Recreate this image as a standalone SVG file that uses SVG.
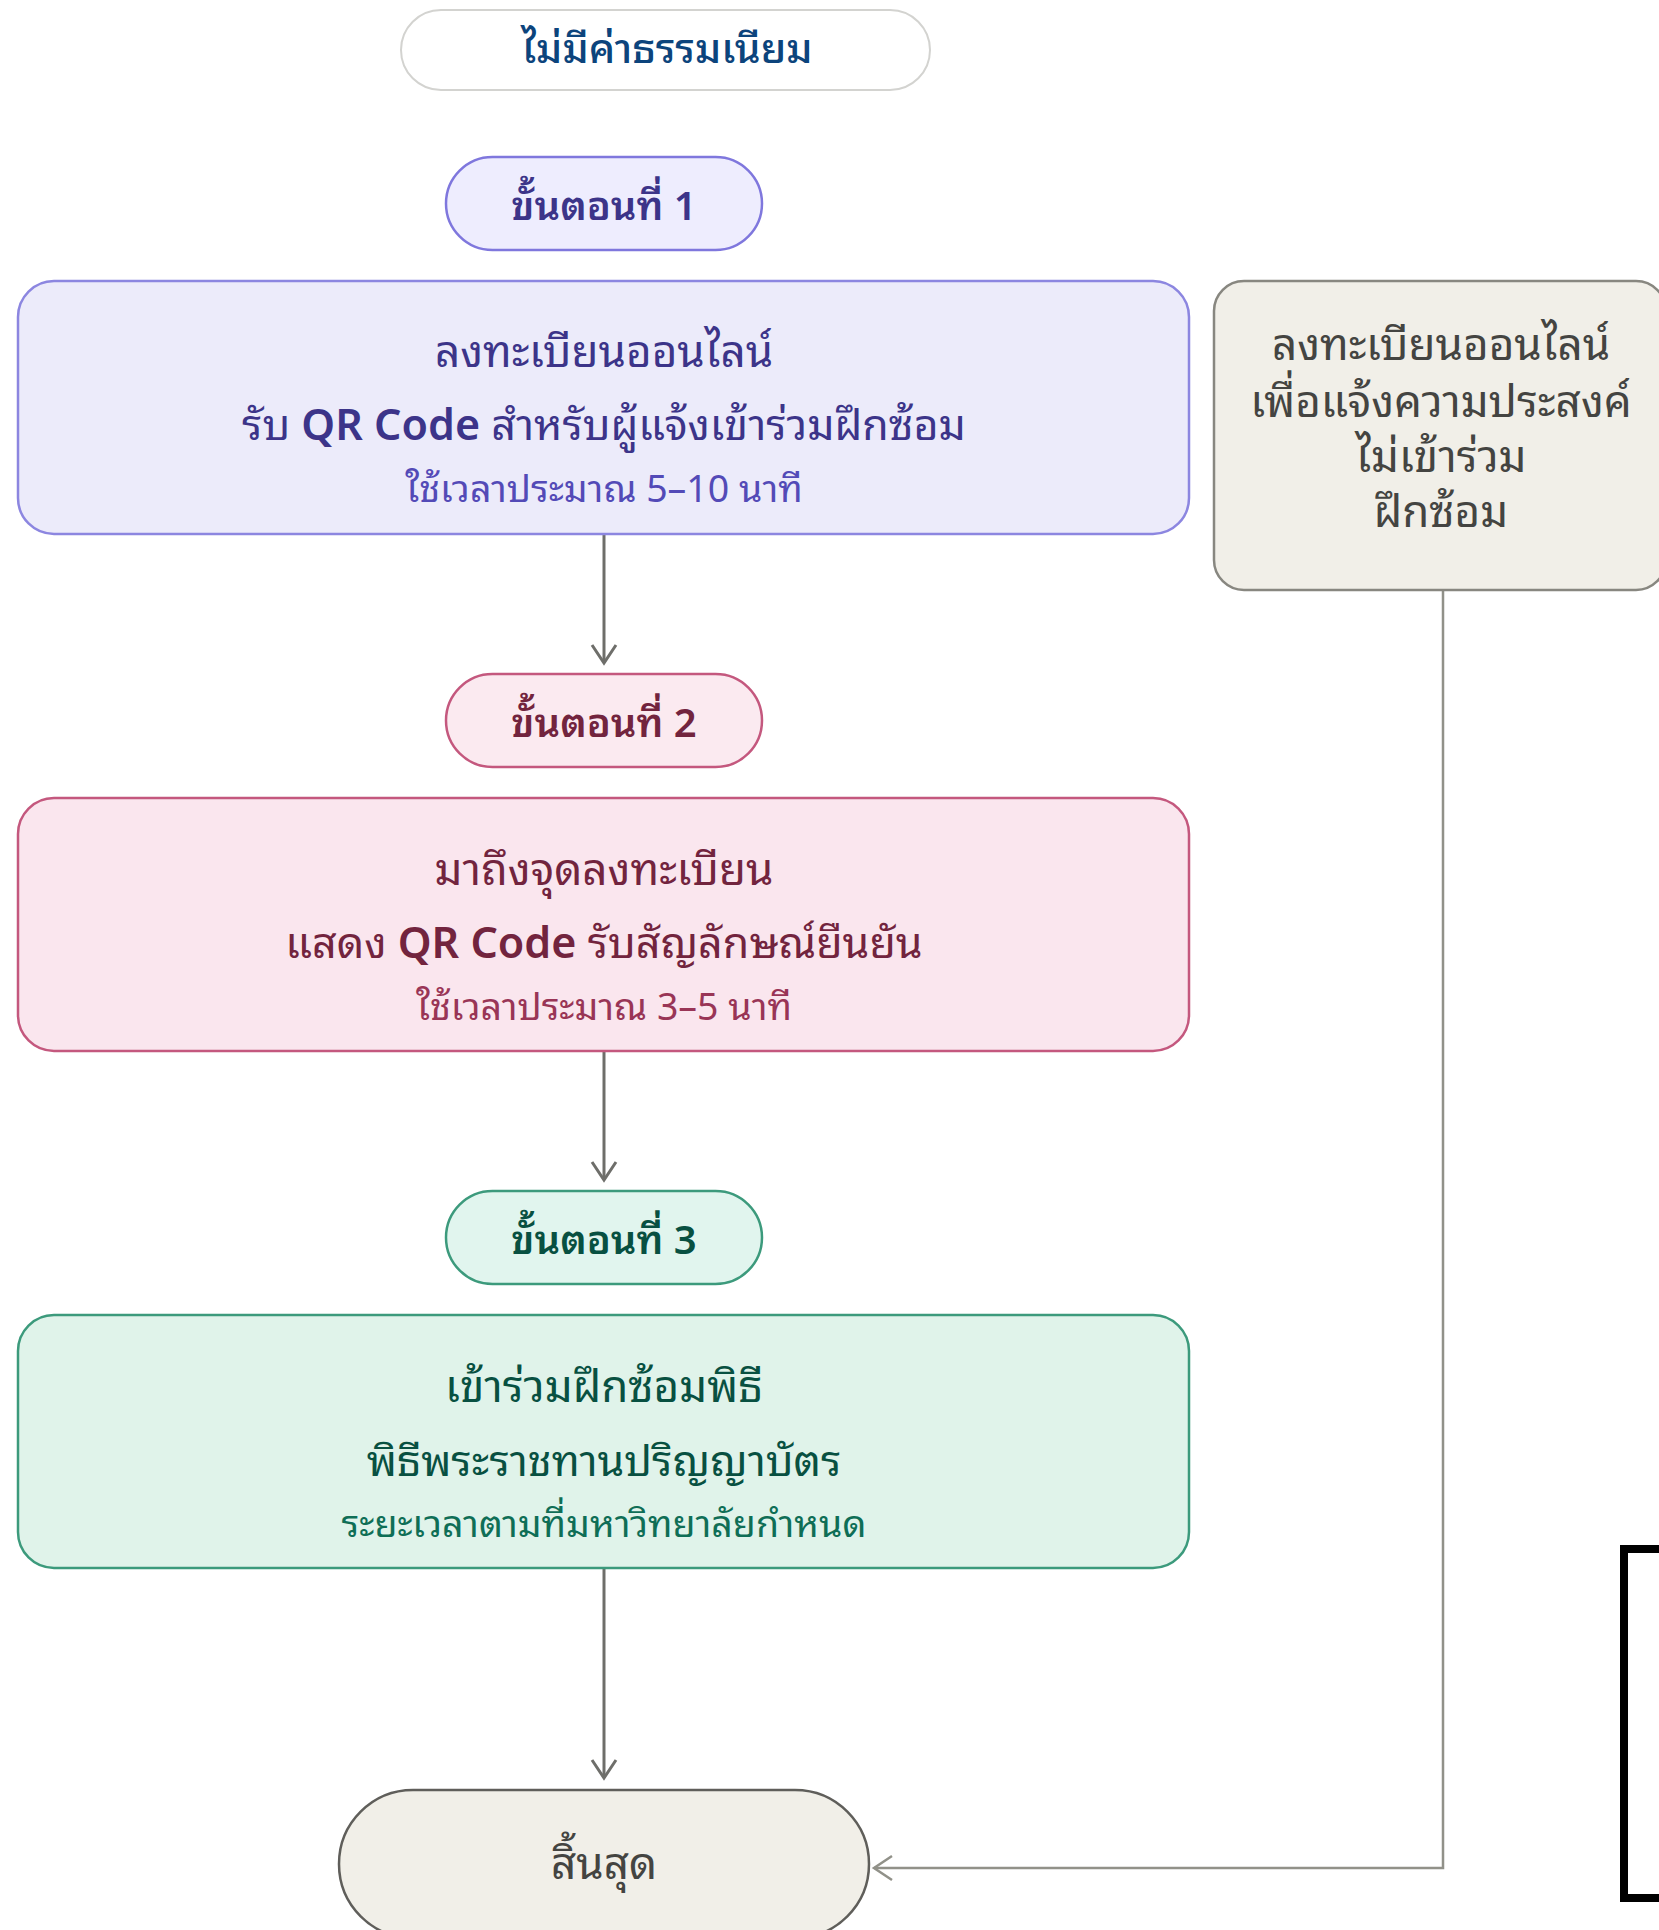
<svg xmlns="http://www.w3.org/2000/svg" width="1659" height="1930" viewBox="0 0 1659 1930">
<style>
text{font-family:"Noto Sans","Noto Sans Thai Looped","Noto Sans Thai","Leelawadee UI","Loma",sans-serif;text-anchor:middle}
.t1{font-size:44px}
.t2{font-size:43px}
.t3{font-size:37.5px}
.b{font-weight:600}
.step{font-size:40px;font-weight:600}
.conn{fill:none;stroke:#6e6e6a;stroke-width:3}
.fb{fill:none;stroke:#919189;stroke-width:2.5}
</style>
<g id="connectors">
<line class="conn" x1="604" y1="534" x2="604" y2="663"/>
<path d="M592 645 L604 663 L616 645" class="conn"/>
<line class="conn" x1="604" y1="1051" x2="604" y2="1180"/>
<path d="M592 1162 L604 1180 L616 1162" class="conn"/>
<line class="conn" x1="604" y1="1568" x2="604" y2="1778"/>
<path d="M592 1760 L604 1778 L616 1760" class="conn"/>
<polyline class="fb" points="1443,590 1443,1868 874,1868"/>
<path d="M892 1856 L874 1868 L892 1880" class="fb"/>
</g>
<g id="fee">
<rect x="401" y="10" width="529" height="80" rx="40" fill="#ffffff" stroke="#d3d3d0" stroke-width="2"/>
<text x="667" y="63" font-size="41" font-weight="500" fill="#0C447C">ไม่มีค่าธรรมเนียม</text>
</g>
<g id="step1">
<rect x="446" y="157" width="316" height="93" rx="46.5" fill="#EEEDFE" stroke="#7F77DD" stroke-width="2.5"/>
<text class="step" x="604" y="220" fill="#3C3489">ขั้นตอนที่ 1</text>
</g>
<g id="box1">
<rect x="18" y="281" width="1171" height="253" rx="36" fill="#ECEBFA" stroke="#8C86E0" stroke-width="2.5"/>
<text class="t1" x="604" y="367" fill="#3C3489">ลงทะเบียนออนไลน์</text>
<text class="t2" x="604" y="440" fill="#3C3489">รับ <tspan class="b">QR Code</tspan> สำหรับผู้แจ้งเข้าร่วมฝึกซ้อม</text>
<text class="t3" x="604" y="502" fill="#534AB7">ใช้เวลาประมาณ 5–10 นาที</text>
</g>
<g id="notjoin">
<rect x="1214" y="281" width="452" height="309" rx="30" fill="#F1EFE8" stroke="#888780" stroke-width="2.5"/>
<text class="t1" x="1441" y="360" fill="#444441">ลงทะเบียนออนไลน์</text>
<text class="t1" x="1441" y="417" fill="#444441">เพื่อแจ้งความประสงค์</text>
<text class="t1" x="1441" y="472" fill="#444441">ไม่เข้าร่วม</text>
<text class="t1" x="1441" y="527" fill="#444441">ฝึกซ้อม</text>
</g>
<g id="step2">
<rect x="446" y="674" width="316" height="93" rx="46.5" fill="#FBEAF0" stroke="#C4587E" stroke-width="2.5"/>
<text class="step" x="604" y="737" fill="#72243E">ขั้นตอนที่ 2</text>
</g>
<g id="box2">
<rect x="18" y="798" width="1171" height="253" rx="36" fill="#FAE6EE" stroke="#C4587E" stroke-width="2.5"/>
<text class="t1" x="604" y="885" fill="#72243E">มาถึงจุดลงทะเบียน</text>
<text class="t2" x="604" y="958" fill="#72243E">แสดง <tspan class="b">QR Code</tspan> รับสัญลักษณ์ยืนยัน</text>
<text class="t3" x="604" y="1020" fill="#993556">ใช้เวลาประมาณ 3–5 นาที</text>
</g>
<g id="step3">
<rect x="446" y="1191" width="316" height="93" rx="46.5" fill="#E1F5EE" stroke="#3C9A7C" stroke-width="2.5"/>
<text class="step" x="604" y="1254" fill="#085041">ขั้นตอนที่ 3</text>
</g>
<g id="box3">
<rect x="18" y="1315" width="1171" height="253" rx="36" fill="#E0F3EA" stroke="#3C9A7C" stroke-width="2.5"/>
<text class="t1" x="604" y="1402" fill="#085041">เข้าร่วมฝึกซ้อมพิธี</text>
<text class="t2" x="604" y="1476" fill="#085041">พิธีพระราชทานปริญญาบัตร</text>
<text class="t3" x="604" y="1537" fill="#0F6E56">ระยะเวลาตามที่มหาวิทยาลัยกำหนด</text>
</g>
<g id="end">
<rect x="339" y="1790" width="530" height="148" rx="74" fill="#F1EFE8" stroke="#5F5E5A" stroke-width="2.5"/>
<text class="t1" x="604" y="1879" fill="#444441">สิ้นสุด</text>
</g>
<rect x="1624" y="1549" width="100" height="349" fill="none" stroke="#000000" stroke-width="8"/>
</svg>
